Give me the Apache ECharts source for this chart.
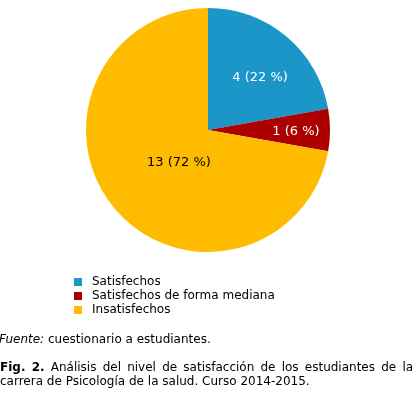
<!DOCTYPE html>
<html>
<head>
<meta charset="utf-8">
<script src="https://cdn.jsdelivr.net/npm/echarts@6/dist/echarts.min.js"></script>
<style>
html,body{margin:0;padding:0;background:#fff;}
#c{width:420px;height:396px;}
</style>
</head>
<body>
<div id="c"></div>
<script>
const categories = ['Satisfechos', 'Satisfechos de forma mediana', 'Insatisfechos'];
const values = [4, 1, 13];
const percents = [22, 6, 72];
const colors = ['#1c96c9', '#ac0000', '#ffbb00'];
const labelColors = ['#ffffff', '#ffffff', '#000000'];
const labelOffsets = [[11, -3], [24, 2], [20, -9]];
const sourceText = 'cuestionario a estudiantes.';
const captionLine1 = 'Análisis del nivel de satisfacción de los estudiantes de la';
const captionLine2 = 'carrera de Psicología de la salud. Curso 2014-2015.';

const font = '"DejaVu Sans", Verdana, sans-serif';
const chart = echarts.init(document.getElementById('c'), null, {renderer: 'canvas'});

const data = categories.map((name, i) => ({
  name: name,
  value: values[i],
  itemStyle: {color: colors[i]},
  label: {color: labelColors[i], offset: labelOffsets[i],
          formatter: values[i] + ' (' + percents[i] + ' %)'}
}));

// justified first caption line: widened spaces
const sp = '{s| }';
const line1 = '{b|Fig.}' + sp + '{b|2.}' + sp + captionLine1.split(' ').join(sp);

chart.setOption({
  animation: false,
  backgroundColor: '#ffffff',
  title: [
    {
      text: '{i|Fuente:} ' + sourceText,
      left: -1, top: 333, padding: 0,
      textStyle: {
        fontFamily: font, fontSize: 12, fontWeight: 'normal', color: '#000', lineHeight: 14,
        rich: {i: {fontFamily: font, fontSize: 12, fontStyle: 'italic', color: '#000', lineHeight: 14}}
      }
    },
    {
      text: line1 + '\n' + captionLine2,
      left: 0, top: 361, padding: 0,
      textStyle: {
        fontFamily: font, fontSize: 12, fontWeight: 'normal', color: '#000', lineHeight: 14,
        rich: {
          b: {fontFamily: font, fontSize: 12, fontWeight: 'bold', color: '#000', lineHeight: 14},
          s: {fontFamily: font, fontSize: 12, width: 6.2, lineHeight: 14}
        }
      }
    }
  ],
  legend: {
    orient: 'vertical',
    left: 74, top: 275,
    itemWidth: 8, itemHeight: 8, itemGap: 0,
    icon: 'rect',
    padding: 0,
    data: categories,
    textStyle: {fontFamily: font, fontSize: 12, color: '#000', lineHeight: 14, padding: [0, 0, 0, 5]}
  },
  series: [{
    type: 'pie',
    center: [208, 130],
    radius: [0, 122],
    startAngle: 90,
    clockwise: true,
    avoidLabelOverlap: false,
    silent: true,
    itemStyle: {borderWidth: 0},
    label: {show: true, position: 'inside', fontFamily: font, fontSize: 13},
    labelLine: {show: false},
    data: data
  }]
});
</script>
</body>
</html>
